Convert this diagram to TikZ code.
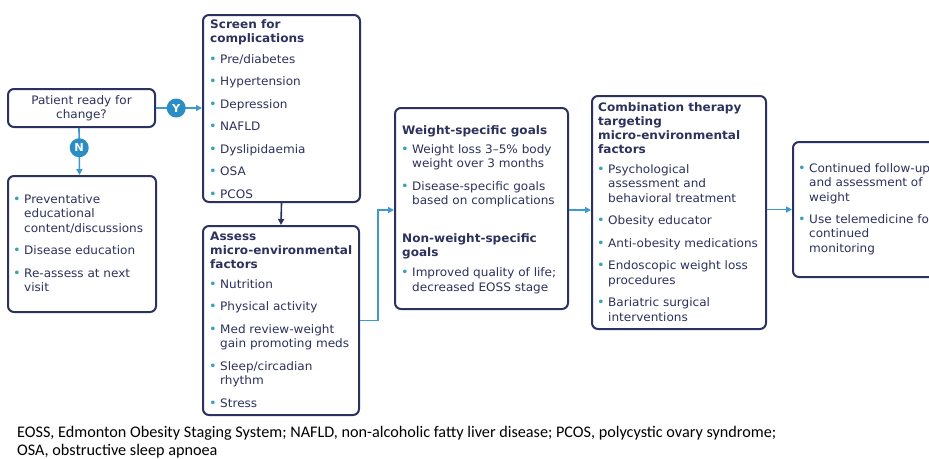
\documentclass[tikz,border=0pt]{standalone}
\usepackage{fontspec}
\setmainfont{DejaVu Sans}[FakeStretch=1.03]
\newfontfamily\notefont{Carlito}
\usetikzlibrary{arrows.meta}
\definecolor{navy}{HTML}{2B3160}
\definecolor{txt}{HTML}{2C325C}
\definecolor{bul}{HTML}{3AA5B2}
\definecolor{arr}{HTML}{3C9AD0}
\definecolor{circ}{HTML}{2A8DC5}
\newcommand\mybox[1]{\vtop{\hsize=300pt\raggedright\parindent=0pt\parskip=0pt\fontsize{11.7}{14.5}\selectfont\baselineskip=14.5pt #1}}
\newcommand\myhead[1]{{\bfseries\baselineskip=14pt\noindent#1\par}}
\newcommand\myitem[1]{{\leftskip=10pt\noindent\llap{\textcolor{bul}{\fontsize{12.5}{12}\selectfont\raisebox{-0.2pt}{•}}\hspace{3.5pt}}#1\par}}
\newcommand\mygap[1]{\vskip#1pt}
\tikzset{
  box/.style={draw=navy, line width=2pt, rounded corners=6pt, anchor=north west, inner sep=0pt, fill=white},
  txtnode/.style={anchor=base west, inner sep=0pt, text=txt},
  conn/.style={draw=arr, line width=1.6pt, -{Triangle[length=6pt,width=6pt]}},
  darkconn/.style={draw=navy, line width=1.6pt, -{Triangle[length=6pt,width=6pt]}},
  yn/.style={circle, fill=circ, text=white, font=\bfseries\fontsize{11}{11}\selectfont, minimum size=19pt, inner sep=0pt},
}
\begin{document}
\begin{tikzpicture}[x=1pt,y=-1pt]
\useasboundingbox (0,0) rectangle (929,458);
\clip (0,0) rectangle (929,458);
\fill[white] (0,0) rectangle (929,458);

% boxes
\node[box, minimum width=147pt, minimum height=38pt, align=center, text=txt,
      font=\fontsize{11.7}{14}\selectfont] (patient) at (7,88) {Patient ready for\\change?};
\node[box, minimum width=148pt, minimum height=136pt] (prev) at (7,175) {};
\node[box, minimum width=157pt, minimum height=187pt] (screen) at (202,14) {};
\node[box, minimum width=156pt, minimum height=189pt] (assess) at (202,225) {};
\node[box, minimum width=173pt, minimum height=201pt] (weight) at (394,107) {};
\node[box, minimum width=174pt, minimum height=233pt] (combo) at (591,95) {};
\node[box, minimum width=160pt, minimum height=135pt] (follow) at (792,141) {};

% box texts
\node[txtnode] (prevtxt) at (14,203) {\mybox{%
  \myitem{Preventative\newline educational\newline content/discussions}\mygap{8}
  \myitem{Disease education}\mygap{8}
  \myitem{Re-assess at next\newline visit}}};

\node[txtnode] (screentxt) at (210,28) {\mybox{%
  \myhead{Screen for\newline complications}\mygap{6.5}
  \myitem{Pre/diabetes}\mygap{8}
  \myitem{Hypertension}\mygap{8}
  \myitem{Depression}\mygap{8}
  \myitem{NAFLD}\mygap{8}
  \myitem{Dyslipidaemia}\mygap{8}
  \myitem{OSA}\mygap{8}
  \myitem{PCOS}}};

\node[txtnode] (assesstxt) at (210,240) {\mybox{%
  \myhead{Assess\newline micro-environmental\newline factors}\mygap{5.5}
  \myitem{Nutrition}\mygap{8}
  \myitem{Physical activity}\mygap{8}
  \myitem{Med review-weight\newline gain promoting meds}\mygap{8}
  \myitem{Sleep/circadian\newline rhythm}\mygap{8}
  \myitem{Stress}}};

\node[txtnode] (weighttxt) at (402,134) {\mybox{%
  \myhead{Weight-specific goals}\mygap{4.5}
  \myitem{Weight loss 3–5\% body\newline weight over 3 months}\mygap{8}
  \myitem{Disease-specific goals\newline based on complications}\mygap{24}
  \myhead{Non-weight-specific\newline goals}\mygap{5.5}
  \myitem{Improved quality of life;\newline decreased EOSS stage}}};

\node[txtnode] (combotxt) at (598,111) {\mybox{%
  \myhead{Combination therapy\newline targeting\newline micro-environmental\newline factors}\mygap{5.5}
  \myitem{Psychological\newline assessment and\newline behavioral treatment}\mygap{8}
  \myitem{Obesity educator}\mygap{8}
  \myitem{Anti-obesity medications}\mygap{8}
  \myitem{Endoscopic weight loss\newline procedures}\mygap{8}
  \myitem{Bariatric surgical\newline interventions}}};

\node[txtnode] (followtxt) at (799,172) {\mybox{%
  \myitem{Continued follow-up\newline and assessment of\newline weight}\mygap{7.5}
  \myitem{Use telemedicine for\newline continued\newline monitoring}}};

% connectors
\coordinate (win) at ([yshift=-1.5pt]weight.west);
\coordinate (wout) at ([yshift=-1.5pt]weight.east);
\draw[conn] (patient.east) -- node[yn, pos=0.44] {Y} (screen.west |- patient.east);
\draw[conn] ([xshift=-2.5pt]patient.south) -- node[yn, pos=0.42] {N} ([xshift=-2.5pt]prev.north);
\draw[darkconn] (screen.south) -- (assess.north);
\draw[conn] (assess.east) -- ++(18,0) |- (win);
\draw[conn] (wout) -- (wout -| combo.west);
\draw[conn] (combo.east |- follow.west) -- (follow.west);

% footnote
\node[txtnode, text=black] (note) at (17,437) {\vtop{\hsize=900pt\raggedright\parindent=0pt\notefont\fontsize{16.2}{18}\selectfont\baselineskip=18pt
  EOSS, Edmonton Obesity Staging System; NAFLD, non-alcoholic fatty liver disease; PCOS, polycystic ovary syndrome;\newline
  OSA, obstructive sleep apnoea}};
\end{tikzpicture}
\end{document}
